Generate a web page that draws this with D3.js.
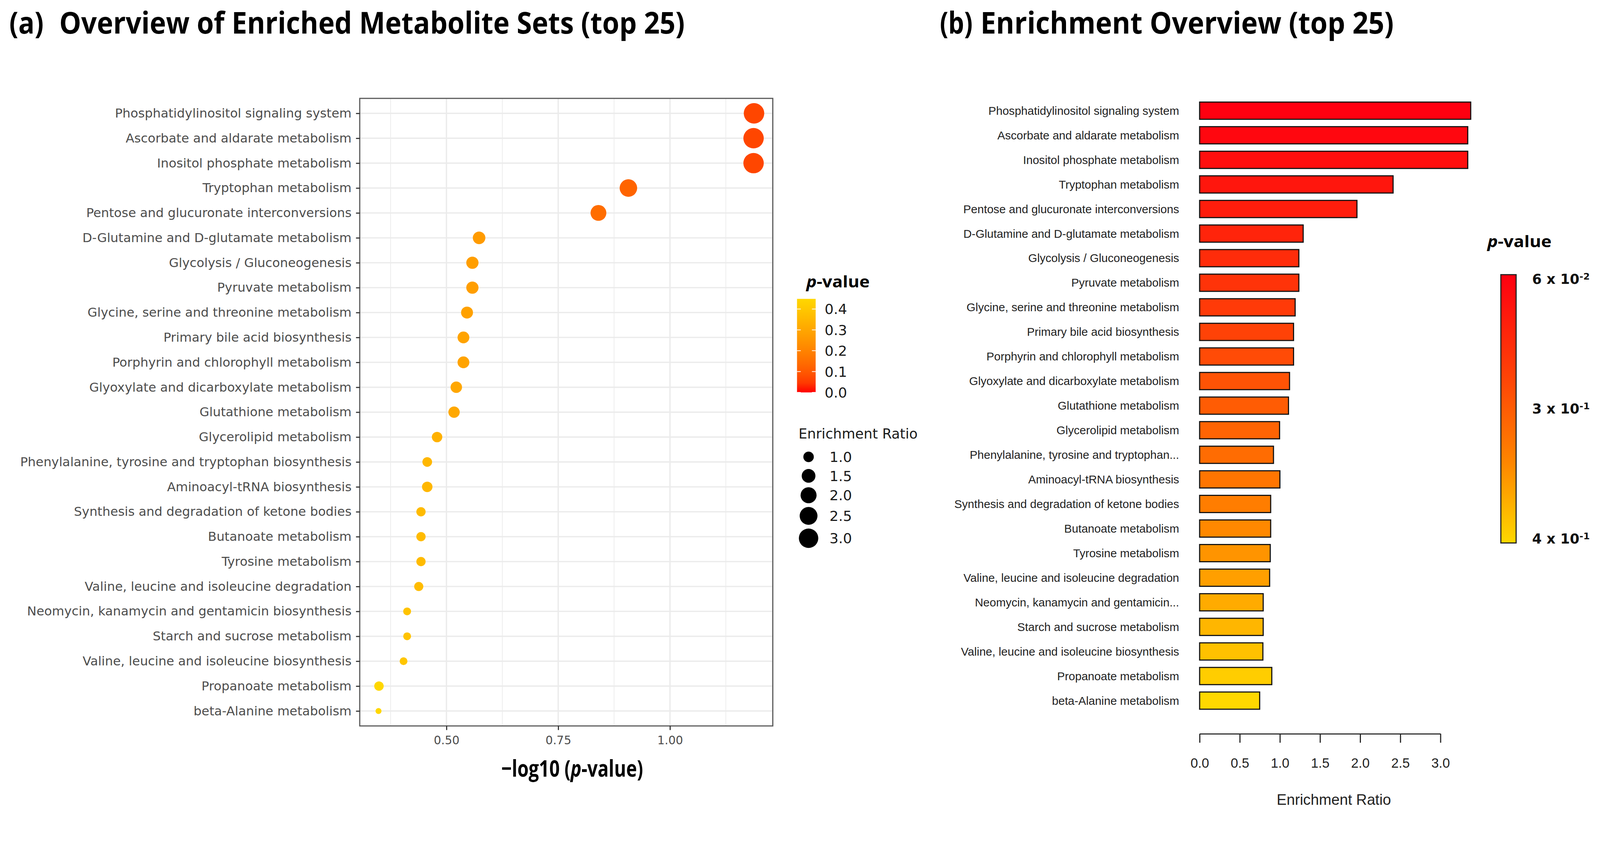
<!DOCTYPE html>
<html>
<head>
<meta charset="utf-8">
<script src="https://cdn.jsdelivr.net/npm/d3@7"></script>
<style>
html, body { margin: 0; padding: 0; background: #fff; width: 100%; height: 100%; overflow: hidden; }
svg { display: block; }
</style>
</head>
<body>
<svg id="chart"></svg>
<script>
// data
var pathways = [
	"Phosphatidylinositol signaling system",
	"Ascorbate and aldarate metabolism",
	"Inositol phosphate metabolism",
	"Tryptophan metabolism",
	"Pentose and glucuronate interconversions",
	"D-Glutamine and D-glutamate metabolism",
	"Glycolysis / Gluconeogenesis",
	"Pyruvate metabolism",
	"Glycine, serine and threonine metabolism",
	"Primary bile acid biosynthesis",
	"Porphyrin and chlorophyll metabolism",
	"Glyoxylate and dicarboxylate metabolism",
	"Glutathione metabolism",
	"Glycerolipid metabolism",
	"Phenylalanine, tyrosine and tryptophan biosynthesis",
	"Aminoacyl-tRNA biosynthesis",
	"Synthesis and degradation of ketone bodies",
	"Butanoate metabolism",
	"Tyrosine metabolism",
	"Valine, leucine and isoleucine degradation",
	"Neomycin, kanamycin and gentamicin biosynthesis",
	"Starch and sucrose metabolism",
	"Valine, leucine and isoleucine biosynthesis",
	"Propanoate metabolism",
	"beta-Alanine metabolism"
];
var barLabels = pathways.slice();
barLabels[14] = "Phenylalanine, tyrosine and tryptophan...";
barLabels[20] = "Neomycin, kanamycin and gentamicin...";

var negLogP = [1.188, 1.187, 1.187, 0.907, 0.840, 0.573, 0.558, 0.558, 0.546, 0.538,
	0.538, 0.522, 0.517, 0.479, 0.457, 0.457, 0.443, 0.443, 0.443, 0.438,
	0.412, 0.412, 0.404, 0.349, 0.348];
var enrichRatio = [3.377, 3.34, 3.34, 2.41, 1.96, 1.29, 1.236, 1.236, 1.19, 1.17,
	1.17, 1.12, 1.107, 0.996, 0.92, 1.0, 0.885, 0.885, 0.88, 0.872,
	0.792, 0.792, 0.788, 0.899, 0.748];

var xTicksA = [0.50, 0.75, 1.00];
var xMinorA = [0.375, 0.625, 0.875, 1.125];
var pTicks = [0.0, 0.1, 0.2, 0.3, 0.4];
var sizeBreaks = [1.0, 1.5, 2.0, 2.5, 3.0];
var xTicksB = [0, 0.5, 1, 1.5, 2, 2.5, 3];
var barLegend = [
	{m: "6", e: "-2", at: 0},
	{m: "3", e: "-1", at: 0.5},
	{m: "4", e: "-1", at: 1}
];

var W = 4292, H = 2187;
var svg = d3.select("#chart")
	.attr("viewBox", "0 0 " + W + " " + H)
	.attr("preserveAspectRatio", "xMidYMin meet")
	.attr("width", "100%").attr("height", "100%")
	.style("width", "100vw").style("height", "100vh")
	.style("font-family", "'DejaVu Sans', sans-serif");

var titleFont = "'Open Sans', 'Noto Sans', sans-serif";

// bold text squeezed sideways to a measured width (the original uses a narrow font)
function narrowText(parent, x, y, size, width, anchor) {
	var t = parent.append("text")
		.attr("text-anchor", anchor || "start")
		.style("font-family", titleFont).style("font-weight", 700)
		.style("font-size", size + "px");
	t.fit = function() {
		var w = t.node().getComputedTextLength();
		t.attr("transform", "translate(" + x + "," + y + ") scale(" + (width / w) + ",1)");
		return t;
	};
	return t;
}

// titles
narrowText(svg, 25, 90, 81, 92).text("(a)").fit();
narrowText(svg, 159, 90, 81, 1678).text("Overview of Enriched Metabolite Sets (top 25)").fit();
narrowText(svg, 2521, 90, 81, 88).text("(b)").fit();
narrowText(svg, 2630, 90, 81, 1109).text("Enrichment Overview (top 25)").fit();

// ---------- panel (a): dot plot ----------
var pa = {l: 965, r: 2073, t: 264, b: 1948};
var ext = d3.extent(negLogP);
var pad = (ext[1] - ext[0]) * 0.05;
var xA = d3.scaleLinear().domain([ext[0] - pad, ext[1] + pad]).range([pa.l, pa.r]);
var yA = d3.scalePoint().domain(pathways).range([pa.t, pa.b]).padding(0.6);

var pVals = negLogP.map(function(v) { return Math.pow(10, -v); });
var pMax = d3.max(pVals);
var colorA = d3.scaleLinear().domain([0, pMax]).range(["#FF0000", "#FFD700"])
	.interpolate(d3.interpolateLab);

var erRescale = d3.scaleLinear().domain(d3.extent(enrichRatio)).range([0, 1]);
var diam = d3.scaleSqrt().domain([0, 1]).range([16, 55]);
function dotR(v) { return diam(Math.max(0, erRescale(v))) / 2; }

var ga = svg.append("g");
ga.selectAll(".minor").data(xMinorA).enter().append("line")
	.attr("x1", function(d) { return xA(d); }).attr("x2", function(d) { return xA(d); })
	.attr("y1", pa.t).attr("y2", pa.b)
	.attr("stroke", "#EBEBEB").attr("stroke-width", 1.8);
ga.selectAll(".major").data(xTicksA).enter().append("line")
	.attr("x1", function(d) { return xA(d); }).attr("x2", function(d) { return xA(d); })
	.attr("y1", pa.t).attr("y2", pa.b)
	.attr("stroke", "#EBEBEB").attr("stroke-width", 3.5);
ga.selectAll(".hgrid").data(pathways).enter().append("line")
	.attr("x1", pa.l).attr("x2", pa.r)
	.attr("y1", function(d) { return yA(d); }).attr("y2", function(d) { return yA(d); })
	.attr("stroke", "#EBEBEB").attr("stroke-width", 3.5);

ga.selectAll(".dot").data(pathways).enter().append("circle")
	.attr("cx", function(d, i) { return xA(negLogP[i]); })
	.attr("cy", function(d) { return yA(d); })
	.attr("r", function(d, i) { return dotR(enrichRatio[i]); })
	.attr("fill", function(d, i) { return colorA(pVals[i]); });

ga.append("rect").attr("x", pa.l).attr("y", pa.t)
	.attr("width", pa.r - pa.l).attr("height", pa.b - pa.t)
	.attr("fill", "none").attr("stroke", "#555").attr("stroke-width", 3);

var yAxisA = ga.append("g").attr("transform", "translate(" + pa.l + ",0)")
	.call(d3.axisLeft(yA).tickSize(10).tickPadding(12));
yAxisA.select(".domain").remove();
yAxisA.selectAll("line").attr("stroke", "#333").attr("stroke-width", 3);
yAxisA.selectAll("text").attr("fill", "#4D4D4D")
	.style("font-size", "33.8px").style("font-family", "'DejaVu Sans', sans-serif");

var xAxisA = ga.append("g").attr("transform", "translate(0," + pa.b + ")")
	.call(d3.axisBottom(xA).tickValues(xTicksA).tickFormat(d3.format(".2f"))
		.tickSize(11).tickPadding(16));
xAxisA.select(".domain").remove();
xAxisA.selectAll("line").attr("stroke", "#333").attr("stroke-width", 3);
xAxisA.selectAll("text").attr("fill", "#4D4D4D")
	.style("font-size", "31px").style("font-family", "'DejaVu Sans', sans-serif");

var xTitleA = narrowText(ga, 1535, 2084, 62, 380, "middle");
xTitleA.append("tspan").text("\u2212log10 (");
xTitleA.append("tspan").style("font-style", "italic").text("p");
xTitleA.append("tspan").text("-value)");
xTitleA.fit();

// legend (a): colour bar
var la = ga.append("g");
var cbA = {x: 2138, w: 50, top: 802, bot: 1053};
var cbScaleA = d3.scaleLinear().domain([0, pMax]).range([cbA.bot, cbA.top]);
var defs = svg.append("defs");
var gradA = defs.append("linearGradient").attr("id", "gradA")
	.attr("x1", 0).attr("y1", 1).attr("x2", 0).attr("y2", 0);
d3.range(0, 1.0001, 0.1).forEach(function(t) {
	gradA.append("stop").attr("offset", t).attr("stop-color", colorA(t * pMax));
});
var ltA = narrowText(la, 2163, 771, 44, 170);
ltA.append("tspan").style("font-style", "italic").text("p");
ltA.append("tspan").text("-value");
ltA.fit();
la.append("rect").attr("x", cbA.x).attr("y", cbA.top)
	.attr("width", cbA.w).attr("height", cbA.bot - cbA.top).attr("fill", "url(#gradA)");
la.selectAll(".cbtickL").data(pTicks).enter().append("line")
	.attr("x1", cbA.x).attr("x2", cbA.x + 10)
	.attr("y1", function(d) { return cbScaleA(d); }).attr("y2", function(d) { return cbScaleA(d); })
	.attr("stroke", "#fff").attr("stroke-width", 2);
la.selectAll(".cbtickR").data(pTicks).enter().append("line")
	.attr("x1", cbA.x + cbA.w - 10).attr("x2", cbA.x + cbA.w)
	.attr("y1", function(d) { return cbScaleA(d); }).attr("y2", function(d) { return cbScaleA(d); })
	.attr("stroke", "#fff").attr("stroke-width", 2);
la.selectAll(".cblab").data(pTicks).enter().append("text")
	.attr("x", 2212).attr("y", function(d) { return cbScaleA(d); })
	.attr("dy", "0.36em").attr("fill", "#1A1A1A").style("font-size", "38px")
	.text(function(d) { return d3.format(".1f")(d); });

// legend (a): size
la.append("text").attr("x", 2142).attr("y", 1177)
	.attr("fill", "#1A1A1A").style("font-size", "37px").text("Enrichment Ratio");
var keyY = [], yy = 1226, prevH = null;
sizeBreaks.forEach(function(v) {
	var h = Math.max(51, dotR(v) * 2 + 10);
	if (prevH !== null) yy += (prevH + h) / 2;
	keyY.push(yy);
	prevH = h;
});
la.selectAll(".skey").data(sizeBreaks).enter().append("circle")
	.attr("cx", 2169).attr("cy", function(d, i) { return keyY[i]; })
	.attr("r", function(d) { return dotR(d); }).attr("fill", "#000");
la.selectAll(".slab").data(sizeBreaks).enter().append("text")
	.attr("x", 2225).attr("y", function(d, i) { return keyY[i]; })
	.attr("dy", "0.36em").attr("fill", "#1A1A1A").style("font-size", "38px")
	.text(function(d) { return d3.format(".1f")(d); });

// ---------- panel (b): bar chart ----------
var gb = svg.append("g");
var xB = d3.scaleLinear().domain([0, 3]).range([3218, 3864]);
var yB = d3.scaleBand().domain(pathways).range([264, 1913])
	.paddingInner(0.3).paddingOuter(0.15);
var barColor = d3.scaleLinear().domain([0, 8, 16, 24])
	.range(["#FF0010", "#FF3A08", "#FF7D00", "#FFD800"]);

gb.selectAll(".bar").data(pathways).enter().append("rect")
	.attr("x", xB(0))
	.attr("y", function(d) { return yB(d); })
	.attr("width", function(d, i) { return xB(enrichRatio[i]) - xB(0); })
	.attr("height", yB.bandwidth())
	.attr("fill", function(d, i) { return barColor(i); })
	.attr("stroke", "#111").attr("stroke-width", 3);

gb.selectAll(".blab").data(pathways).enter().append("text")
	.attr("x", 3163)
	.attr("y", function(d) { return yB(d) + yB.bandwidth() / 2; })
	.attr("dy", "0.35em").attr("text-anchor", "end")
	.attr("fill", "#222")
	.style("font-family", "'Liberation Sans', Arial, sans-serif").style("font-size", "31px")
	.text(function(d, i) { return barLabels[i]; });

var xAxisB = gb.append("g").attr("transform", "translate(0,1969)")
	.call(d3.axisBottom(xB).tickValues(xTicksB).tickFormat(d3.format(".1f"))
		.tickSize(24).tickSizeOuter(0).tickPadding(42));
xAxisB.selectAll("line, path").attr("stroke", "#222").attr("stroke-width", 3);
xAxisB.selectAll("text").attr("fill", "#222")
	.style("font-family", "'Liberation Sans', Arial, sans-serif").style("font-size", "36px");

gb.append("text").attr("x", 3578).attr("y", 2146).attr("dy", "0.35em")
	.attr("text-anchor", "middle").attr("fill", "#222")
	.style("font-family", "'Liberation Sans', Arial, sans-serif").style("font-size", "40px")
	.text("Enrichment Ratio");

// legend (b)
var cbB = {x: 4026, w: 41, top: 737, bot: 1457};
var gradB = defs.append("linearGradient").attr("id", "gradB")
	.attr("x1", 0).attr("y1", 0).attr("x2", 0).attr("y2", 1);
d3.range(0, 1.0001, 0.1).forEach(function(t) {
	gradB.append("stop").attr("offset", t).attr("stop-color", barColor(t * 24));
});
var ltB = narrowText(gb, 3990, 663, 44, 172);
ltB.append("tspan").style("font-style", "italic").text("p");
ltB.append("tspan").text("-value");
ltB.fit();
gb.append("rect").attr("x", cbB.x).attr("y", cbB.top)
	.attr("width", cbB.w).attr("height", cbB.bot - cbB.top)
	.attr("fill", "url(#gradB)").attr("stroke", "#222").attr("stroke-width", 3);
var cbScaleB = d3.scaleLinear().domain([0, 1]).range([cbB.top + 11, cbB.bot - 12]);
var blg = gb.selectAll(".bleg").data(barLegend).enter().append("text")
	.attr("x", 4110).attr("y", function(d) { return cbScaleB(d.at); })
	.attr("dy", "0.36em").attr("fill", "#111")
	.style("font-weight", 700).style("font-size", "37px");
blg.append("tspan").text(function(d) { return d.m + " x 10"; });
blg.append("tspan").attr("dy", "-0.45em").style("font-size", "25px")
	.text(function(d) { return d.e; });
</script>
</body>
</html>
